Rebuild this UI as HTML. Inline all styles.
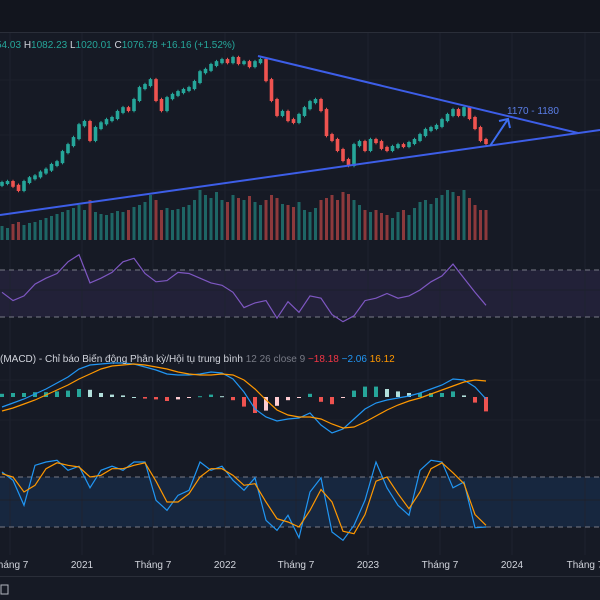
<!DOCTYPE html>
<html><head><meta charset="utf-8"><style>
html,body{margin:0;padding:0;background:#161a25;width:600px;height:600px;overflow:hidden;font-family:"Liberation Sans","Noto Sans CJK SC",sans-serif}
svg{display:block}
</style></head><body>
<svg id="c" width="600" height="600" xmlns="http://www.w3.org/2000/svg">
<rect x="0" y="0" width="600" height="600" fill="#161a25"/>
<rect x="0" y="0" width="600" height="32" fill="#12151e"/>
<line x1="0" y1="32.5" x2="600" y2="32.5" stroke="#2a2e39"/>
<rect x="0" y="270" width="600" height="47" fill="rgba(126,87,194,0.12)"/>
<rect x="0" y="477" width="600" height="50" fill="rgba(33,110,200,0.16)"/>
<g id="grid"></g>
<line x1="0" y1="270" x2="600" y2="270" stroke="#787b86" stroke-dasharray="5,4"/>
<line x1="0" y1="317" x2="600" y2="317" stroke="#787b86" stroke-dasharray="5,4"/>
<line x1="0" y1="477" x2="600" y2="477" stroke="#787b86" stroke-dasharray="5,4"/>
<line x1="0" y1="527" x2="600" y2="527" stroke="#787b86" stroke-dasharray="5,4"/>
<g id="vol"></g>
<g id="candles"></g>
<g id="ind"></g>
<line x1="258" y1="56" x2="578" y2="133" stroke="#3d5ee8" stroke-width="2"/>
<line x1="0" y1="215" x2="600" y2="130" stroke="#3d5ee8" stroke-width="2"/>
<g>
<line x1="490" y1="146" x2="508" y2="119" stroke="#3d6ef0" stroke-width="2"/>
<polyline points="499,121 508,119 510,128" fill="none" stroke="#3d6ef0" stroke-width="2"/>
</g>
<text x="507" y="114" font-size="10" fill="#5b7fe8">1170 - 1180</text>
<text x="-4" y="48" font-size="10"><tspan fill="#26a69a">54.03 </tspan><tspan fill="#d1d4dc">H</tspan><tspan fill="#26a69a">1082.23 </tspan><tspan fill="#d1d4dc">L</tspan><tspan fill="#26a69a">1020.01 </tspan><tspan fill="#d1d4dc">C</tspan><tspan fill="#26a69a">1076.78 +16.16 (+1.52%)</tspan></text>
<text x="0" y="362" font-size="10"><tspan fill="#d1d4dc">(MACD) - Chỉ báo Biến động Phân kỳ/Hội tụ trung bình </tspan><tspan fill="#787b86">12 26 close 9 </tspan><tspan fill="#f23645"> −18.18 </tspan><tspan fill="#2196f3">−2.06 </tspan><tspan fill="#ff9800">16.12</tspan></text>
<g id="axis"></g>
<line x1="0" y1="576.5" x2="600" y2="576.5" stroke="#2a2e39"/>
<g><rect x="1" y="585" width="7" height="9" fill="none" stroke="#b2b5be"/></g>
</svg>
<script>
const closes=[865,870,850,828,870,890,900,920,935,960,975,1028,1065,1102,1170,1187,1092,1155,1180,1197,1208,1240,1260,1250,1303,1366,1382,1408,1303,1250,1313,1330,1345,1356,1366,1398,1450,1462,1488,1503,1514,1503,1525,1498,1503,1482,1503,1514,1408,1303,1224,1240,1197,1187,1224,1260,1292,1303,1250,1118,1092,1039,986,960,1065,1081,1039,1092,1081,1050,1039,1055,1065,1060,1076,1092,1118,1145,1155,1166,1197,1224,1250,1224,1260,1208,1155,1092,1076];
const volumes=[14,12,16,18,15,17,18,20,22,24,26,28,30,32,35,30,40,28,26,25,27,29,28,30,33,35,38,45,40,30,32,30,31,33,35,40,50,45,42,48,40,38,45,42,40,44,38,35,40,45,42,36,35,33,38,30,28,32,40,42,45,40,48,46,40,35,30,28,30,27,25,22,28,30,25,32,38,40,36,42,45,50,48,44,50,42,35,30,30];
const rsi=[51,44,48,58,63,67,77,83,59,63,68,77,80,67,60,61,68,67,63,59,57,51,38,42,44,29,43,34,48,46,32,26,31,44,46,50,46,48,53,60,65,75,63,51,40];
const macd=[-10,-6,-2,3,8,14,20,28,32,33,34,34,33,30,27,23,22,22,23,25,24,18,5,-12,-20,-24,-22,-21,-16,-28,-36,-32,-22,-12,-6,-3,-1,1,4,8,12,18,17,10,-2];
const signal=[-14,-11,-7,-3,2,7,12,18,23,28,31,32,33,32,30,28,25,23,22,22,23,22,17,8,-3,-13,-18,-20,-20,-22,-27,-31,-30,-25,-19,-13,-8,-4,-1,3,7,11,15,17,16];
const stochK=[86,76,46,94,98,100,88,93,67,88,93,88,98,98,52,40,58,64,98,88,93,76,64,79,28,16,34,7,62,79,14,4,22,52,98,67,46,34,88,100,98,67,74,19,20];
const stochD=[84,80,62,70,90,97,94,92,80,82,90,90,94,97,75,50,50,60,80,90,90,82,70,72,50,30,26,20,40,65,50,15,12,35,75,80,60,42,62,90,97,85,72,35,22];
const tickLabels=["Tháng 7","2021","Tháng 7","2022","Tháng 7","2023","Tháng 7","2024","Tháng 7"];
const tickPos=[10,82,153,225,296,368,440,512,585];

const NS="http://www.w3.org/2000/svg";
function mk(tag,attrs,parent){const e=document.createElementNS(NS,tag);for(const k in attrs)e.setAttribute(k,attrs[k]);parent.appendChild(e);return e;}
const xEnd=486;
function xAt(i,n){return 2+i*(xEnd-2)/(n-1);}
const yPrice=p=>143-(p-1076)/5.28;
const yVol=v=>240-v;
const yRsi=r=>317-(r-30)*47/40;
const yMacd=v=>397-v;
const yStoch=s=>527-(s-20)*50/60;

const grid=document.getElementById('grid');
tickPos.forEach((x,i)=>{const l=mk('line',{x1:x,y1:33,x2:x,y2:555,stroke:'#1f2330'},grid);

});
[80,135,190,290,380,420,500].forEach(y=>{const l=mk('line',{x1:0,y1:y,x2:600,y2:y,stroke:'#1c202b'},grid);

});

const cg=document.getElementById('candles'),vg=document.getElementById('vol');
const n=closes.length;
for(let i=0;i<n;i++){
  const o=i?closes[i-1]:closes[0]-10,c=closes[i],up=c>=o,col=up?'#26a69a':'#ef5350',x=xAt(i,n);
  const hi=Math.max(o,c)+12,lo=Math.min(o,c)-12;
  const w=mk('line',{x1:x,y1:yPrice(hi),x2:x,y2:yPrice(lo),stroke:col,'stroke-width':1},cg);
  
  
  const yt=yPrice(Math.max(o,c)),yb=yPrice(Math.min(o,c));
  const b=mk('rect',{x:x-1.8,y:yt-1,width:3.6,height:Math.max(3,yb-yt+2),fill:col},cg);
  
  
  const v=mk('rect',{x:x-1.5,y:yVol(volumes[i]),width:3,height:volumes[i],fill:up?'rgba(38,166,154,0.55)':'rgba(239,83,80,0.55)'},vg);
  
  
}
const ig=document.getElementById('ind');
function line(arr,yf,col,name){const m=arr.length;const pts=arr.map((v,i)=>xAt(i,m).toFixed(1)+','+yf(v).toFixed(1)).join(' ');
  const p=mk('polyline',{points:pts,fill:'none',stroke:col,'stroke-width':1.2},ig);
  
  }
for(let i=0;i<macd.length;i++){
  const d=macd[i]-signal[i],h=d*0.8,x=xAt(i,macd.length);
  const prev=i?(macd[i-1]-signal[i-1]):d;
  const col=d>=0?(d>=prev?'#26a69a':'#b2dfdb'):(d<=prev?'#ef5350':'#ffcdd2');
  const r=mk('rect',{x:x-2,y:Math.min(397,397-h),width:4,height:Math.max(1,Math.abs(h)),fill:col},ig);
  
  
}
line(rsi,yRsi,'#7e57c2','rsi-line');
line(macd,yMacd,'#2196f3','macd-line');
line(signal,yMacd,'#ff9800','signal-line');
line(stochK,yStoch,'#2196f3','stoch-k-line');
line(stochD,yStoch,'#ff9800','stoch-d-line');

const ag=document.getElementById('axis');
tickLabels.forEach((t,i)=>{const e=mk('text',{x:tickPos[i],y:568,'font-size':10,fill:'#d1d4dc','text-anchor':'middle'},ag);e.textContent=t;
  
  });
</script>
</body></html>
